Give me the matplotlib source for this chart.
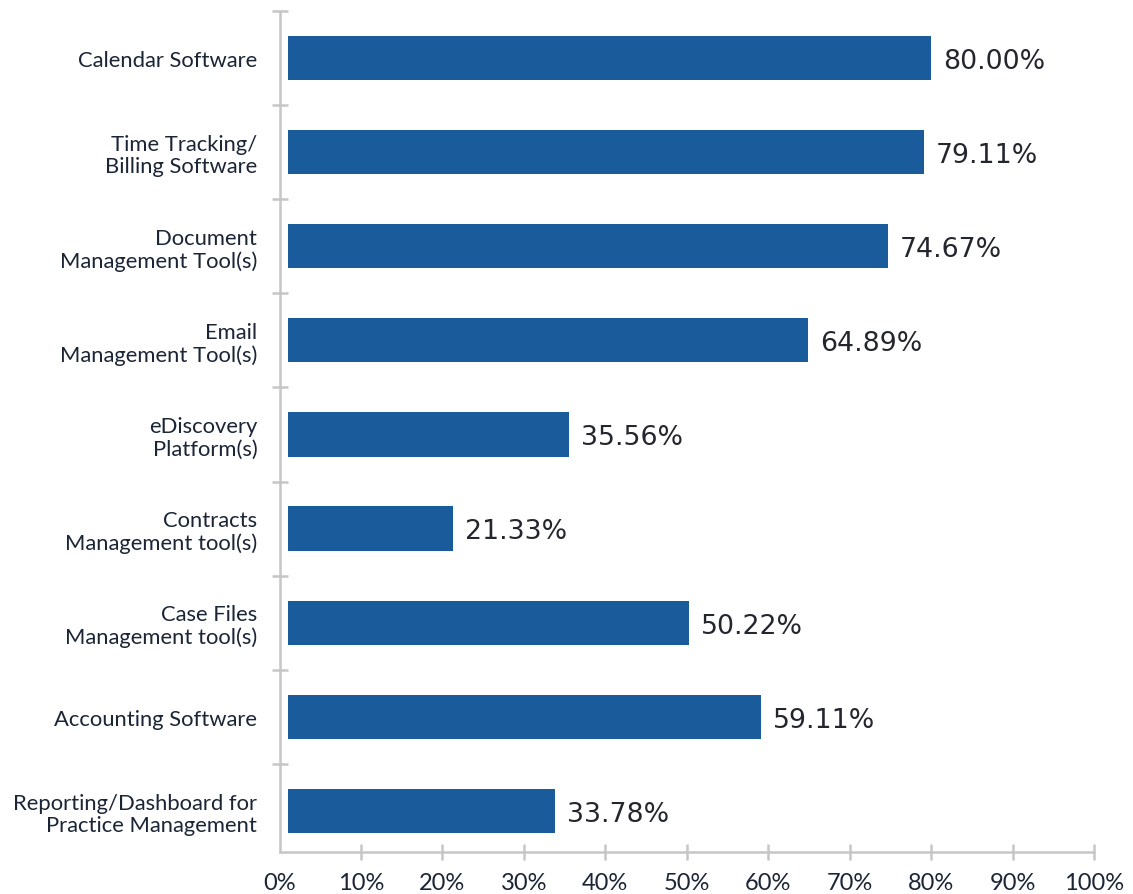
import matplotlib
matplotlib.use("Agg")
import matplotlib.pyplot as plt
import numpy as np

categories = [
    "Calendar Software",
    "Time Tracking/\nBilling Software",
    "Document\nManagement Tool(s)",
    "Email\nManagement Tool(s)",
    "eDiscovery\nPlatform(s)",
    "Contracts\nManagement tool(s)",
    "Case Files\nManagement tool(s)",
    "Accounting Software",
    "Reporting/Dashboard for\nPractice Management",
]
values = [80.00, 79.11, 74.67, 64.89, 35.56, 21.33, 50.22, 59.11, 33.78]
x_ticks = [0, 10, 20, 30, 40, 50, 60, 70, 80, 90, 100]
x_tick_labels = [f"{t}%" for t in x_ticks]

BAR_COLOR = "#1a5c9b"
AXIS_COLOR = "#c6c6c8"
TEXT_COLOR = "#1b2536"
VALUE_COLOR = "#24262e"

plt.rcParams["font.family"] = ["Lato", "DejaVu Sans"]

fig = plt.figure(figsize=(11.33, 8.95), dpi=100)
ax = fig.add_axes([0.2467, 0.0469, 0.7189, 0.9397])

y = np.arange(len(categories))
bar_start = 1.1
ax.barh(y, np.array(values) - bar_start, left=bar_start, height=0.47,
        color=BAR_COLOR, zorder=3)

for yi, v in zip(y, values):
    ax.text(v + 1.5, yi + 0.03, f"{v:.2f}%", va="center", ha="left",
            fontsize=19.3, color=VALUE_COLOR, family=["DejaVu Sans"])

ax.set_xlim(0, 100)
ax.set_ylim(len(categories) - 0.563, -0.5)

for side in ("top", "right"):
    ax.spines[side].set_visible(False)
for side in ("left", "bottom"):
    ax.spines[side].set_color(AXIS_COLOR)
    ax.spines[side].set_linewidth(1.8)

ax.set_xticks(x_ticks)
ax.set_xticklabels(x_tick_labels, fontsize=17, color=TEXT_COLOR)
ax.tick_params(axis="x", direction="inout", length=11, width=1.8,
               color=AXIS_COLOR, pad=9)
ax.xaxis.get_major_ticks()[0].tick1line.set_visible(False)

ax.set_yticks(y)
ax.set_yticklabels(categories, fontsize=15.8, color=TEXT_COLOR,
                   linespacing=1.12)
ax.tick_params(axis="y", which="major", length=0, pad=16)
ax.set_yticks(np.arange(-0.5, len(categories) - 1, 1.0), minor=True)
ax.tick_params(axis="y", which="minor", direction="inout", length=12,
               width=1.8, color=AXIS_COLOR)

fig.savefig("out.png", dpi=100, facecolor="white")
